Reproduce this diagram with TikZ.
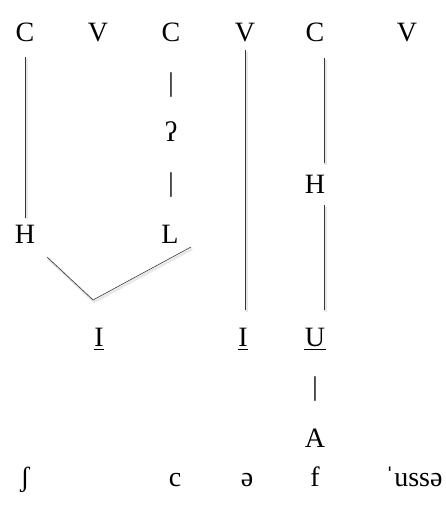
\documentclass[tikz,border=0pt]{standalone}
\usepackage{fontspec}
\setmainfont{Liberation Serif}
\begin{document}
\begin{tikzpicture}[x=1pt,y=-1pt,
  lbl/.style={inner sep=0pt, outer sep=0pt, anchor=base, font=\fontsize{28}{33}\selectfont},
  bar/.style={inner sep=0pt, outer sep=0pt, anchor=center, font=\fontsize{27}{32}\selectfont},
  ln/.style={draw=black!78, line width=0.6pt,
    preaction={draw=black!9, line width=2.6pt, transform canvas={shift={(1.2pt,-1.8pt)}}}},
  ul/.style={line width=0.9pt}]
\useasboundingbox (0,0) rectangle (446,505);
% top row
\node[lbl] (C1) at (25,42) {C};
\node[lbl] (V1) at (98,42) {V};
\node[lbl] (C2) at (171,42) {C};
\node[lbl] (V2) at (245,42) {V};
\node[lbl] (C3) at (315,42) {C};
\node[lbl] (V3) at (407,42) {V};
% column 2
\node[bar] (b1) at (171,85) {|};
\node[lbl] (gs) at (171,142) {ʔ};
\node[bar] (b2) at (171,185.5) {|};
\node[lbl] (L) at (170,243) {L};
\node[lbl] (H1) at (25,243) {H};
\node[lbl] (H2) at (315,193) {H};
% element row
\node[lbl] (I1) at (99,346) {I};
\node[lbl] (I2) at (243,346) {I};
\node[lbl] (U) at (315,346) {U};
\node[bar] (b3) at (315,389) {|};
\node[lbl] (A) at (315,447) {A};
% bottom row
\node[lbl] (s1) at (25,486) {ʃ};
\node[lbl] (s2) at (175,486) {c};
\node[lbl] (s3) at (247,486) {ə};
\node[lbl] (s4) at (315,486) {f};
\node[lbl, anchor=base west] (s5) at (385,486) {ˈussə};
% underlines
\foreach \n in {I1,I2,U}
  \draw[ul] ([yshift=-3pt,xshift=-0.5pt]\n.base west) -- ([yshift=-3pt,xshift=0.5pt]\n.base east);
% connectors
\draw[ln, shorten <=15pt, shorten >=7pt] (C1.south) -- (H1.north);
\draw[ln, shorten <=8pt, shorten >=17.5pt] (V2.south) -- (V2.south |- I2.north);
\draw[ln, shorten <=16pt, shorten >=11.5pt] ([xshift=9.5pt]C3.south) -- ([xshift=9.5pt]H2.north);
\draw[ln, shorten <=12pt, shorten >=17.5pt] ([xshift=9.5pt]H2.south) -- ([xshift=9.5pt]U.north);
\coordinate (vL) at (47,257);
\coordinate (vB) at (93,300);
\coordinate (vR) at (191,247);
\draw[ln] (vL) -- (vB) -- (vR);
\end{tikzpicture}
\end{document}
